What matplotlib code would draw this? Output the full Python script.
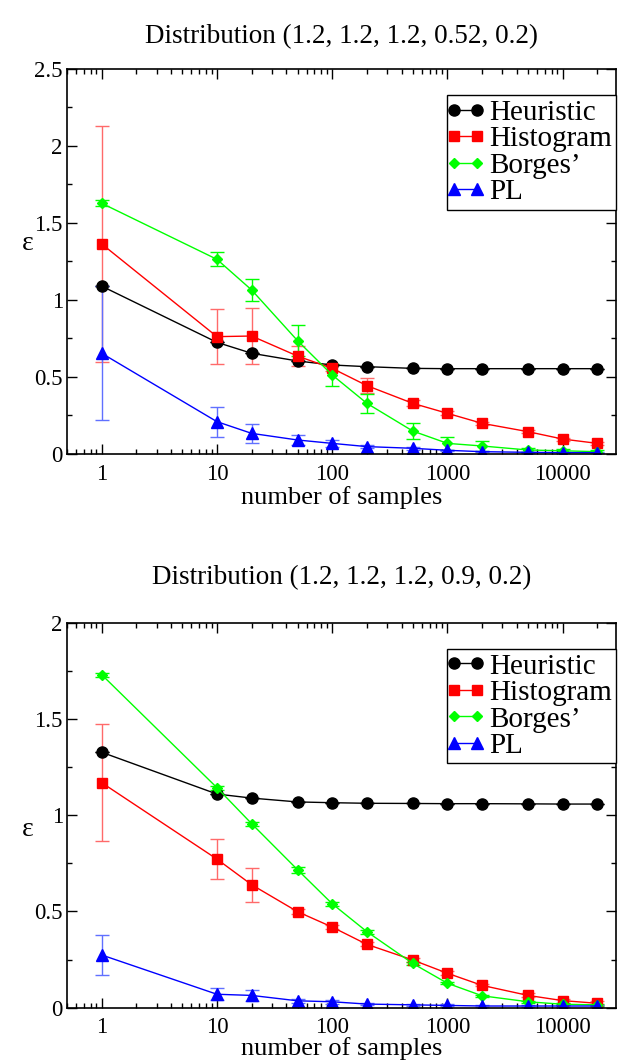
# ======================================================================
# SECTION 1: IMPORTS
# ======================================================================
import numpy as np
import matplotlib
matplotlib.use("Agg")
import matplotlib.pyplot as plt
import matplotlib.ticker as mticker
from matplotlib.lines import Line2D
from matplotlib.legend_handler import HandlerLine2D


# ======================================================================
# SECTION 2: DATA
# ======================================================================
samples = [1, 10, 20, 50, 100, 200, 500, 1000, 2000, 5000, 10000, 20000]

# Panel 1 — Distribution (1.2, 1.2, 1.2, 0.52, 0.2)
heur_1     = [1.09, 0.725, 0.654, 0.604, 0.578, 0.567, 0.556, 0.554, 0.554, 0.554, 0.554, 0.554]
heur_1_err = [0, 0, 0, 0, 0, 0, 0, 0, 0, 0, 0, 0]
hist_1     = [1.364, 0.762, 0.766, 0.636, 0.556, 0.444, 0.329, 0.264, 0.199, 0.145, 0.097, 0.069]
hist_1_err = [0.764, 0.18, 0.18, 0.065, 0.02, 0.05, 0.02, 0.012, 0.01, 0.01, 0.01, 0.01]
borg_1     = [1.628, 1.264, 1.065, 0.736, 0.513, 0.329, 0.149, 0.069, 0.052, 0.026, 0.021, 0.015]
borg_1_err = [0.02, 0.046, 0.07, 0.1, 0.074, 0.063, 0.052, 0.043, 0.032, 0.01, 0.01, 0.01]
pl_1       = [0.654, 0.21, 0.134, 0.091, 0.069, 0.048, 0.037, 0.024, 0.015, 0.011, 0.009, 0.009]
pl_1_err   = [0.434, 0.097, 0.06, 0.03, 0.025, 0.01, 0.01, 0.005, 0.005, 0.005, 0.005, 0.005]

# Panel 2 — Distribution (1.2, 1.2, 1.2, 0.9, 0.2)
heur_2     = [1.327, 1.11, 1.089, 1.069, 1.065, 1.062, 1.061, 1.06, 1.06, 1.059, 1.058, 1.058]
heur_2_err = [0, 0, 0, 0, 0, 0, 0, 0, 0, 0, 0, 0]
hist_2     = [1.169, 0.772, 0.639, 0.499, 0.419, 0.329, 0.248, 0.179, 0.116, 0.064, 0.037, 0.023]
hist_2_err = [0.305, 0.105, 0.089, 0.012, 0.01, 0.01, 0.01, 0.01, 0.005, 0.01, 0.01, 0.01]
borg_2     = [1.73, 1.143, 0.956, 0.717, 0.54, 0.395, 0.23, 0.127, 0.062, 0.031, 0.018, 0.015]
borg_2_err = [0.01, 0.01, 0.01, 0.015, 0.01, 0.01, 0.01, 0.005, 0.005, 0.005, 0.005, 0.005]
pl_2       = [0.274, 0.07, 0.064, 0.036, 0.031, 0.019, 0.015, 0.012, 0.009, 0.009, 0.009, 0.009]
pl_2_err   = [0.105, 0.03, 0.03, 0.01, 0.01, 0.005, 0.005, 0.005, 0.005, 0.005, 0.005, 0.005]

titles   = ["Distribution (1.2, 1.2, 1.2, 0.52, 0.2)",
            "Distribution (1.2, 1.2, 1.2, 0.9, 0.2)"]
labels   = ["Heuristic", "Histogram", "Borges\u2019", "PL"]
x_ticks  = [1, 10, 100, 1000, 10000]
x_labels = ["1", "10", "100", "1000", "10000"]
y_ticks_1  = [0, 0.5, 1, 1.5, 2, 2.5]
y_labels_1 = ["0", "0.5", "1", "1.5", "2", "2.5"]
y_ticks_2  = [0, 0.5, 1, 1.5, 2]
y_labels_2 = ["0", "0.5", "1", "1.5", "2"]


# ======================================================================
# SECTION 3: STYLE
# ======================================================================
plt.rcParams["font.family"] = ["Liberation Serif", "DejaVu Serif"]

colors   = ["#000000", "#ff0000", "#00ff00", "#0000ff"]
e_colors = ["#000000", "#ff6a6a", "#00ff00", "#6070ff"]
markers  = ["o", "s", "D", "^"]
msizes   = [8, 7, 5.5, 8]

fig = plt.figure(figsize=(6.18, 10.61), dpi=100)
ax_top = fig.add_axes([0.1084, 0.5721, 0.8884, 0.3629])
ax_bot = fig.add_axes([0.1084, 0.0502, 0.8884, 0.3629])


def style_ax(ax, yticks, ylabels, ymax):
    ax.set_xscale("log")
    ax.set_xlim(0.5, 29000)
    ax.set_ylim(0, ymax)
    ax.set_xticks(x_ticks)
    ax.set_xticklabels(x_labels)
    ax.xaxis.set_minor_locator(mticker.LogLocator(base=10, subs=np.arange(2, 10)))
    ax.xaxis.set_minor_formatter(mticker.NullFormatter())
    ax.set_yticks(yticks)
    ax.set_yticklabels(ylabels)
    ax.yaxis.set_minor_locator(mticker.MultipleLocator(0.25))
    ax.tick_params(which="both", direction="in", top=True, right=True,
                   width=1.0, labelsize=16.5)
    ax.tick_params(which="major", length=7)
    ax.tick_params(which="minor", length=3.5)
    ax.tick_params(axis="x", pad=7)
    ax.tick_params(axis="y", pad=3)
    for sp in ax.spines.values():
        sp.set_linewidth(1.2)


def draw_panel(ax, series, errors):
    handles = []
    for i in range(4):
        ax.errorbar(samples, series[i], yerr=errors[i], color=colors[i],
                    marker=markers[i], markersize=msizes[i],
                    markeredgecolor=colors[i], linewidth=1.0,
                    elinewidth=1.0, capsize=5, capthick=1.0,
                    ecolor=e_colors[i])
        handles.append(Line2D([], [], color=colors[i], marker=markers[i],
                              markersize=msizes[i], linewidth=1.0,
                              label=labels[i]))
    leg = ax.legend(handles=handles, loc="upper right",
                    bbox_to_anchor=(1.0, 0.932),
                    handler_map={Line2D: HandlerLine2D(marker_pad=0.1, numpoints=2)},
                    borderaxespad=0, handlelength=1.0,
                    handletextpad=0.3, labelspacing=0.0,
                    borderpad=0.15, fontsize=21, frameon=True,
                    fancybox=False, edgecolor="black", framealpha=1)
    leg.get_frame().set_linewidth(1.0)
    leg.set_zorder(10)


# ======================================================================
# SECTION 4: PANELS
# ======================================================================
style_ax(ax_top, y_ticks_1, y_labels_1, 2.5)
draw_panel(ax_top, [heur_1, hist_1, borg_1, pl_1],
           [heur_1_err, hist_1_err, borg_1_err, pl_1_err])

style_ax(ax_bot, y_ticks_2, y_labels_2, 2.0)
draw_panel(ax_bot, [heur_2, hist_2, borg_2, pl_2],
           [heur_2_err, hist_2_err, borg_2_err, pl_2_err])

# titles and axis labels placed as in the original layout
fig.text(0.553, 1 - 37 / 1061, titles[0], ha="center", va="center", fontsize=19.5)
fig.text(0.553, 1 - 578 / 1061, titles[1], ha="center", va="center", fontsize=19.5)
fig.text(0.553, 1 - 498 / 1061, "number of samples", ha="center", va="center", fontsize=19)
fig.text(0.553, 1.5 / 1061, "number of samples", ha="center", va="bottom", fontsize=19)
fig.text(28 / 618, 1 - 243 / 1061, "\u03b5", ha="center", va="center", fontsize=20)
fig.text(28 / 618, 1 - 830 / 1061, "\u03b5", ha="center", va="center", fontsize=20)

fig.savefig("out.png", dpi=100, facecolor="white")
